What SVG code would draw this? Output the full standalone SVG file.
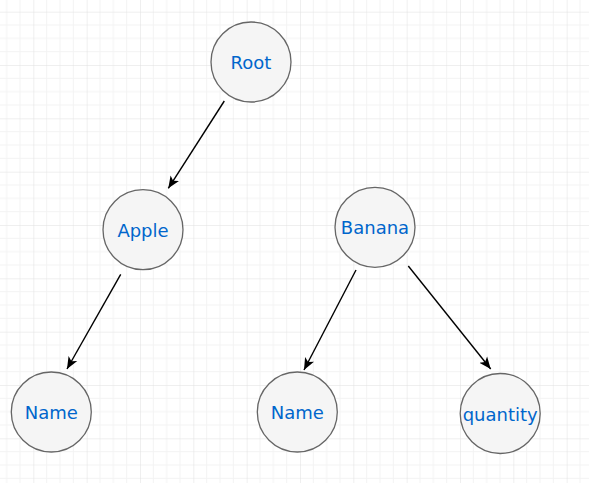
<svg xmlns="http://www.w3.org/2000/svg" width="589" height="483" viewBox="0 0 589 483">
<style>
.node circle{fill:#f5f5f5;stroke:#666666;stroke-width:1.3}
.node text{font-family:"DejaVu Sans",Verdana,sans-serif;font-size:18px;fill:#0066cc;text-anchor:middle}
.edge{stroke:#000;stroke-width:1.4;fill:none;marker-end:url(#arr)}
</style>
<defs>
<pattern id="grid" patternUnits="userSpaceOnUse" x="33.33" y="11.67" width="53.333" height="53.333">
<path d="M13.333 0V53.333M26.667 0V53.333M40 0V53.333M0 13.333H53.333M0 26.667H53.333M0 40H53.333" stroke="#f3f3f3" stroke-width="1"/>
<path d="M0 0V53.333M0 0H53.333" stroke="#e0e0e0" stroke-width="1"/>
</pattern>
<marker id="arr" markerUnits="userSpaceOnUse" markerWidth="14" markerHeight="12" refX="12" refY="5" orient="auto" viewBox="0 0 14 10">
<path d="M0 0L12 5L0 10L3 5Z" fill="#000"/>
</marker>
</defs>
<rect width="589" height="483" fill="#fff"/>
<rect width="589" height="483" fill="url(#grid)"/>
<g id="connectors">
<line class="edge" x1="224.3" y1="101" x2="168.3" y2="188.3"/>
<line class="edge" x1="120.7" y1="274.3" x2="67" y2="369"/>
<line class="edge" x1="356" y1="270" x2="304" y2="370"/>
<line class="edge" x1="408.3" y1="266" x2="490.7" y2="369"/>
</g>
<g id="root" class="node"><circle cx="251" cy="62" r="40"/><text x="251" y="69">Root</text></g>
<g id="apple" class="node"><circle cx="143" cy="229.7" r="40"/><text x="143" y="236.5">Apple</text></g>
<g id="banana" class="node"><circle cx="375" cy="227.3" r="40"/><text x="375" y="234">Banana</text></g>
<g id="name1" class="node"><circle cx="51.3" cy="412" r="40"/><text x="51.3" y="419">Name</text></g>
<g id="name2" class="node"><circle cx="297.3" cy="412" r="40"/><text x="297.3" y="419">Name</text></g>
<g id="quantity" class="node"><circle cx="500.2" cy="413.5" r="40"/><text x="500.2" y="420.5">quantity</text></g>
</svg>
